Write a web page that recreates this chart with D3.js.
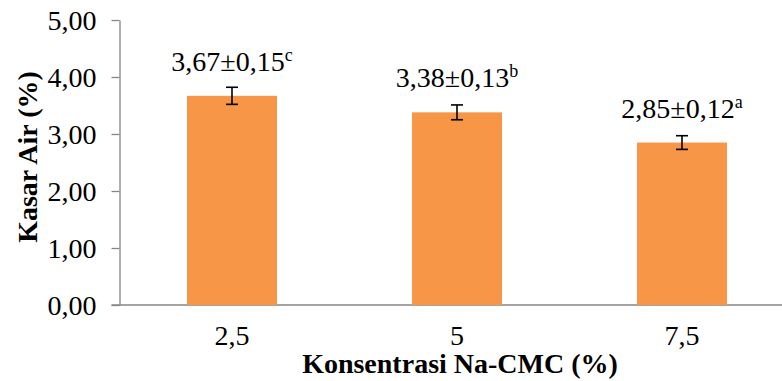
<!DOCTYPE html>
<html>
<head>
<meta charset="utf-8">
<script src="https://cdn.jsdelivr.net/npm/d3@7/dist/d3.min.js"></script>
<style>
  html, body { margin: 0; padding: 0; background: #fff; }
  svg text { font-family: 'Liberation Serif', 'Times New Roman', serif !important; }
</style>
</head>
<body>
<svg id="chart" width="782" height="381" style="display:block"></svg>
<script>
// Moisture content (Kasar Air) by Na-CMC concentration
const categories = ["2,5", "5", "7,5"];
const means = [3.67, 3.38, 2.85];
const stdevs = [0.15, 0.13, 0.12];
const letters = ["c", "b", "a"];
const yTicks = [0, 1, 2, 3, 4, 5];

const svg = d3.select("#chart");
const plotLeft = 119.5, plotRight = 794.5, plotTop = 20, plotBottom = 305;

const idLocale = d3.formatLocale({ decimal: ",", thousands: ".", grouping: [3], currency: ["", ""] });
const fmt2 = idLocale.format(".2f");

const x = d3.scaleBand()
  .domain(categories)
  .range([plotLeft, plotRight])
  .paddingInner(0.6)
  .paddingOuter(0.3);

const y = d3.scaleLinear().domain([0, 5]).range([plotBottom, plotTop]);

const axisColor = "#868686";

// Y axis
const yAxis = svg.append("g")
  .attr("transform", `translate(${plotLeft},0)`)
  .call(d3.axisLeft(y).tickValues(yTicks).tickFormat(fmt2).tickSize(8).tickSizeOuter(0).tickPadding(15));
yAxis.select(".domain").attr("stroke", axisColor).attr("stroke-width", 1.3);
yAxis.selectAll(".tick line").attr("stroke", axisColor).attr("stroke-width", 1.3);
yAxis.selectAll(".tick text")
  .attr("fill", "#000")
  .attr("font-size", 28)
  .attr("dy", "0.34em");

// X axis
const xAxis = svg.append("g")
  .attr("transform", `translate(0,${plotBottom})`)
  .call(d3.axisBottom(x).tickSize(0).tickSizeOuter(0).tickPadding(20));
xAxis.select(".domain").attr("stroke", axisColor).attr("stroke-width", 1.3)
  .attr("d", `M${plotLeft - 8},0H${plotRight}`);
xAxis.selectAll(".tick text")
  .attr("fill", "#000")
  .attr("font-size", 28)
  .attr("dy", "0.71em");

// Bars
svg.append("g").selectAll("rect")
  .data(categories)
  .join("rect")
  .attr("x", d => x(d))
  .attr("width", x.bandwidth())
  .attr("y", (d, i) => y(means[i]))
  .attr("height", (d, i) => y(0) - y(means[i]))
  .attr("fill", "#F79646");

// Error bars
const eb = svg.append("g").attr("stroke", "#000").attr("stroke-width", 1.6);
categories.forEach((c, i) => {
  const cx = x(c) + x.bandwidth() / 2;
  const y1 = y(means[i] + stdevs[i]);
  const y2 = y(means[i] - stdevs[i]);
  eb.append("line").attr("x1", cx).attr("x2", cx).attr("y1", y1).attr("y2", y2);
  eb.append("line").attr("x1", cx - 6).attr("x2", cx + 6).attr("y1", y1).attr("y2", y1);
  eb.append("line").attr("x1", cx - 6).attr("x2", cx + 6).attr("y1", y2).attr("y2", y2);
});

// Value labels with significance letters
categories.forEach((c, i) => {
  const cx = x(c) + x.bandwidth() / 2;
  const t = svg.append("text")
    .attr("x", cx)
    .attr("y", y(means[i]) - 25)
    .attr("text-anchor", "middle")
    .attr("font-size", 28)
    .attr("fill", "#000");
  t.append("tspan").text(fmt2(means[i]) + "±" + fmt2(stdevs[i]));
  t.append("tspan").attr("font-size", 18).attr("dy", -10).text(letters[i]);
});

// Axis titles
svg.append("text")
  .attr("x", 460)
  .attr("y", 373)
  .attr("text-anchor", "middle")
  .attr("font-size", 28)
  .attr("font-weight", "bold")
  .attr("fill", "#000")
  .text("Konsentrasi Na-CMC (%)");

svg.append("text")
  .attr("transform", "translate(37,157) rotate(-90)")
  .attr("text-anchor", "middle")
  .attr("font-size", 28)
  .attr("font-weight", "bold")
  .attr("fill", "#000")
  .text("Kasar Air (%)");
</script>
</body>
</html>
